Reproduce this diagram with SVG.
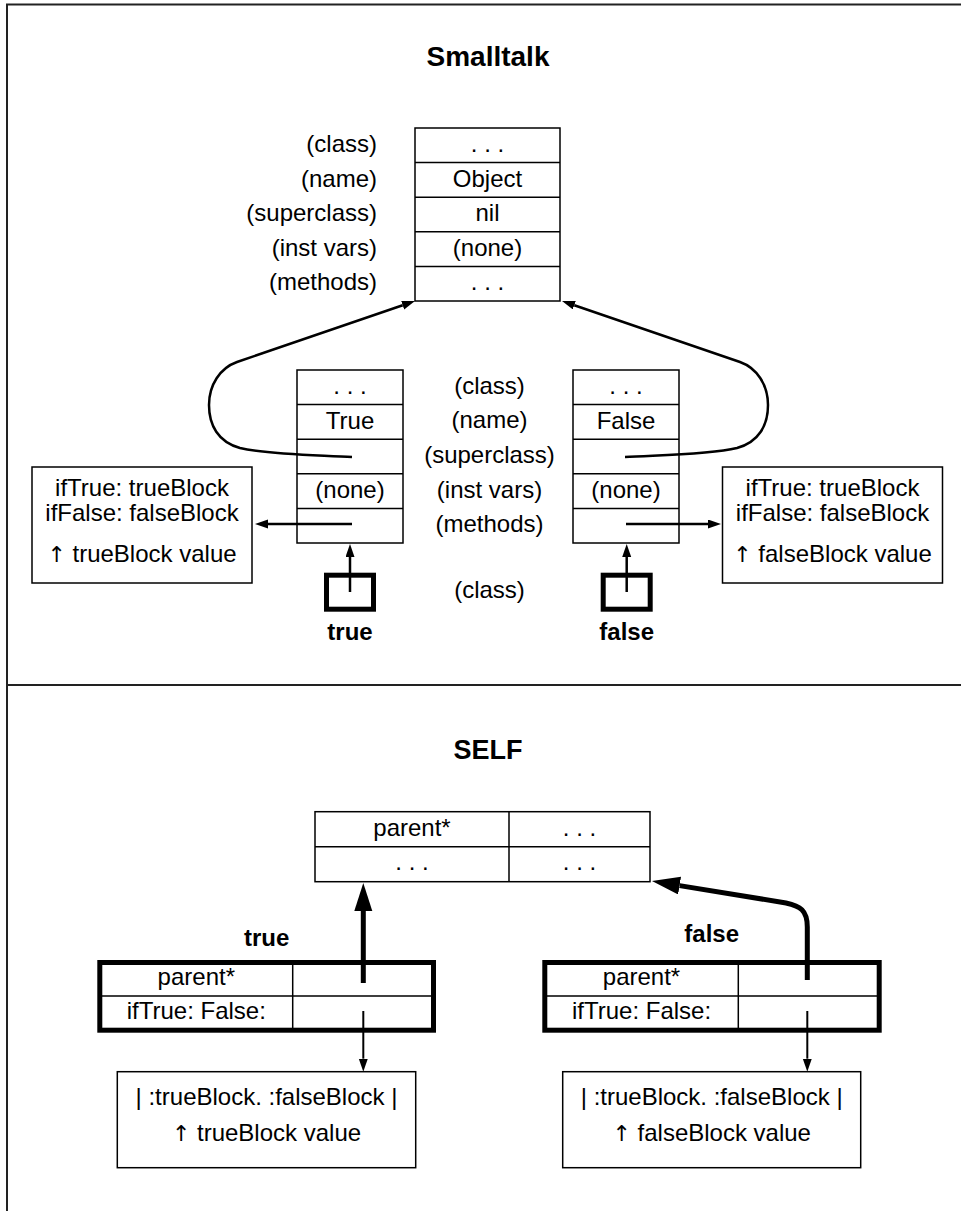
<svg xmlns="http://www.w3.org/2000/svg" width="961" height="1211" viewBox="0 0 961 1211">
<style>
 text { font-family: "Liberation Sans", Arial, Helvetica, sans-serif; font-size: 24px; fill: #000; }
 .c { text-anchor: middle; }
 .r { text-anchor: end; }
 .b { font-weight: bold; }
 .ar { font-family: "DejaVu Sans", sans-serif; font-size: 22px; fill: #000; }
 .title { font-weight: bold; font-size: 28px; text-anchor: middle; }
 .box { fill: #fff; stroke: #000; stroke-width: 1.5; }
 .ln { fill: none; stroke: #000; stroke-width: 1.5; }
 .thick { fill: none; stroke: #000; stroke-width: 5; }
 .conn { fill: none; stroke: #000; stroke-width: 2.5; }
 .thin { fill: none; stroke: #000; stroke-width: 2; }
 .frame { fill: none; stroke: #222; stroke-width: 2; }
</style>
<defs>
 <marker id="sa" markerUnits="userSpaceOnUse" markerWidth="14" markerHeight="10" refX="0" refY="4.5" orient="auto"><path d="M0,0 L13,4.5 L0,9 z" fill="#000"/></marker>
 <marker id="ba" markerUnits="userSpaceOnUse" markerWidth="29" markerHeight="19" refX="0" refY="9" orient="auto"><path d="M0,0 L28,9 L0,18 z" fill="#000"/></marker>
</defs>
<rect x="0" y="0" width="961" height="1211" fill="#fff"/>
<g id="frame">
 <path class="frame" d="M961,4.5 H7 V1211"/>
 <line class="frame" x1="7" y1="685" x2="961" y2="685"/>
</g>
<text class="title" x="488" y="66">Smalltalk</text>
<g id="object-class">
 <rect class="box" x="415" y="128" width="145" height="173"/>
 <path class="ln" d="M415,162.6 H560 M415,197.2 H560 M415,231.8 H560 M415,266.4 H560"/>
 <text class="c" x="487.5" y="152">. . .</text>
 <text class="c" x="487.5" y="186.6">Object</text>
 <text class="c" x="487.5" y="221.2">nil</text>
 <text class="c" x="487.5" y="255.8">(none)</text>
 <text class="c" x="487.5" y="290.4">. . .</text>
</g>
<g id="object-labels">
 <text class="r" x="377" y="152">(class)</text>
 <text class="r" x="377" y="186.6">(name)</text>
 <text class="r" x="377" y="221.2">(superclass)</text>
 <text class="r" x="377" y="255.8">(inst vars)</text>
 <text class="r" x="377" y="290.4">(methods)</text>
</g>
<g id="true-class">
 <rect class="box" x="297" y="370" width="106" height="173"/>
 <path class="ln" d="M297,404.6 H403 M297,439.2 H403 M297,473.8 H403 M297,508.4 H403"/>
 <text class="c" x="350" y="394">. . .</text>
 <text class="c" x="350" y="428.6">True</text>
 <text class="c" x="350" y="497.8">(none)</text>
</g>
<g id="false-class">
 <rect class="box" x="573" y="370" width="106" height="173"/>
 <path class="ln" d="M573,404.6 H679 M573,439.2 H679 M573,473.8 H679 M573,508.4 H679"/>
 <text class="c" x="626" y="394">. . .</text>
 <text class="c" x="626" y="428.6">False</text>
 <text class="c" x="626" y="497.8">(none)</text>
</g>
<g id="middle-labels">
 <text class="c" x="489.5" y="393.5">(class)</text>
 <text class="c" x="489.5" y="428">(name)</text>
 <text class="c" x="489.5" y="463">(superclass)</text>
 <text class="c" x="489.5" y="497.5">(inst vars)</text>
 <text class="c" x="489.5" y="532">(methods)</text>
 <text class="c" x="489.5" y="598">(class)</text>
</g>
<g id="true-methods">
 <rect class="box" x="32" y="467" width="220" height="116"/>
 <text class="c" x="142" y="496">ifTrue: trueBlock</text>
 <text class="c" x="142" y="521">ifFalse: falseBlock</text>
 <text class="c" x="142" y="561.5"><tspan class="ar">↑</tspan> trueBlock value</text>
</g>
<g id="false-methods">
 <rect class="box" x="722.5" y="467" width="220" height="116"/>
 <text class="c" x="832.5" y="496">ifTrue: trueBlock</text>
 <text class="c" x="832.5" y="521">ifFalse: falseBlock</text>
 <text class="c" x="832.5" y="561.5"><tspan class="ar">↑</tspan> falseBlock value</text>
</g>
<g id="true-instance">
 <rect class="thick" x="326.5" y="575.2" width="47" height="34"/>
 <text class="c b" x="350" y="640">true</text>
</g>
<g id="false-instance">
 <rect class="thick" x="603.2" y="575.2" width="47" height="34"/>
 <text class="c b" x="626.7" y="640">false</text>
</g>
<g id="smalltalk-connectors">
 <line class="conn" x1="350" y1="592" x2="350" y2="557" marker-end="url(#sa)"/>
 <line class="conn" x1="626.7" y1="592" x2="626.7" y2="557" marker-end="url(#sa)"/>
 <line class="conn" x1="352" y1="524" x2="268" y2="524" marker-end="url(#sa)"/>
 <line class="conn" x1="626" y1="524" x2="708" y2="524" marker-end="url(#sa)"/>
 <path class="conn" d="M352,457 C320,455 270,455 240,448 C218,442 209,425 209,405 C209,385 220,368 237,362 L402.7,305.2" marker-end="url(#sa)"/>
 <path class="conn" d="M625,457 C657,455 707,455 737,448 C759,442 768,425 768,405 C768,385 757,368 740,362 L574.3,305.2" marker-end="url(#sa)"/>
</g>
<text class="title" style="font-size:27px" x="488" y="759">SELF</text>
<g id="self-parent">
 <rect class="box" x="315" y="811.7" width="335" height="70"/>
 <path class="ln" d="M315,846.7 H650 M509,811.7 V881.7"/>
 <text class="c" x="412" y="836">parent*</text>
 <text class="c" x="579.5" y="836">. . .</text>
 <text class="c" x="412" y="870">. . .</text>
 <text class="c" x="579.5" y="870">. . .</text>
</g>
<g id="self-true">
 <rect class="thick" x="99.8" y="962.5" width="333.7" height="67.7"/>
 <path class="ln" d="M99.8,996 H433.5 M292.7,962.5 V1030.2"/>
 <text class="c" x="196.3" y="985">parent*</text>
 <text class="c" x="196.3" y="1019">ifTrue: False:</text>
 <text class="c b" x="266.7" y="946">true</text>
</g>
<g id="self-false">
 <rect class="thick" x="544.8" y="962.5" width="334.4" height="67.7"/>
 <path class="ln" d="M544.8,996 H879.2 M738.3,962.5 V1030.2"/>
 <text class="c" x="641.5" y="985">parent*</text>
 <text class="c" x="641.5" y="1019">ifTrue: False:</text>
 <text class="c b" x="711.7" y="942">false</text>
</g>
<g id="self-true-block">
 <rect class="box" x="117.3" y="1071.7" width="298.4" height="96"/>
 <text class="c" x="266.5" y="1105">| :trueBlock. :falseBlock |</text>
 <text class="c" x="266.5" y="1140.7"><tspan class="ar">↑</tspan> trueBlock value</text>
</g>
<g id="self-false-block">
 <rect class="box" x="562.7" y="1071.7" width="298" height="96"/>
 <text class="c" x="711.7" y="1105">| :trueBlock. :falseBlock |</text>
 <text class="c" x="711.7" y="1140.7"><tspan class="ar">↑</tspan> falseBlock value</text>
</g>
<g id="self-connectors">
 <line class="thick" x1="363.3" y1="983" x2="363.3" y2="911" marker-end="url(#ba)"/>
 <path class="thick" d="M807.3,980 V927 C807.3,910 800,906 786,903 L679.6,885.6" marker-end="url(#ba)"/>
 <line class="thin" x1="363.3" y1="1011" x2="363.3" y2="1058.7" marker-end="url(#sa)"/>
 <line class="thin" x1="807.3" y1="1011" x2="807.3" y2="1058.7" marker-end="url(#sa)"/>
</g>
</svg>
